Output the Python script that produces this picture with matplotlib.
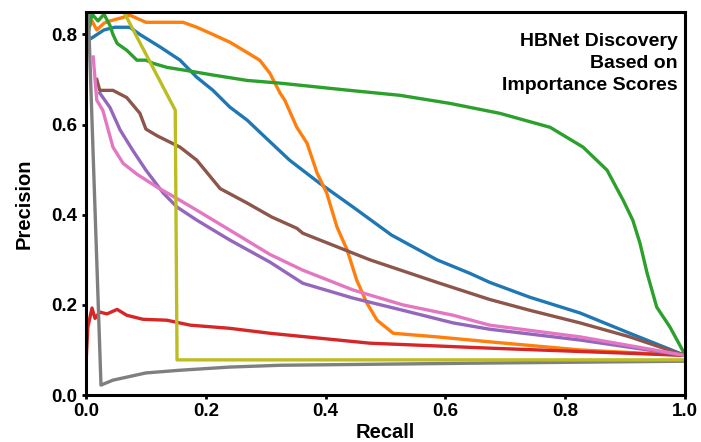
import matplotlib
matplotlib.use("Agg")
import matplotlib.pyplot as plt

plt.rcParams['font.family'] = ['Liberation Sans', 'DejaVu Sans']

# Recall / precision values
blue_r = [0.0, 0.007, 0.03, 0.048, 0.073, 0.09, 0.124, 0.157, 0.185, 0.212, 0.24, 0.269, 0.296,
          0.34, 0.39, 0.446, 0.51, 0.586, 0.641, 0.674, 0.741, 0.825, 0.908, 0.97, 1.0]
blue_p = [0.80, 0.79, 0.81, 0.816, 0.816, 0.80, 0.772, 0.743, 0.705, 0.676, 0.639, 0.61, 0.576,
          0.521, 0.47, 0.417, 0.355, 0.30, 0.27, 0.25, 0.217, 0.182, 0.137, 0.104, 0.088]

orange_r = [0.0, 0.01, 0.018, 0.03, 0.04, 0.062, 0.073, 0.10, 0.129, 0.162, 0.185, 0.212, 0.24,
            0.269, 0.29, 0.307, 0.324, 0.332, 0.352, 0.369, 0.386, 0.402, 0.419, 0.436, 0.452,
            0.469, 0.486, 0.513, 0.586, 0.674, 0.825, 1.0]
orange_p = [0.80, 0.83, 0.81, 0.825, 0.83, 0.838, 0.843, 0.827, 0.827, 0.827, 0.816, 0.80, 0.783,
            0.76, 0.743, 0.714, 0.67, 0.654, 0.594, 0.559, 0.492, 0.448, 0.373, 0.322, 0.255,
            0.204, 0.166, 0.137, 0.129, 0.118, 0.10, 0.088]

green_r = [0.0, 0.003, 0.01, 0.02, 0.03, 0.04, 0.045, 0.052, 0.068, 0.085, 0.10, 0.112, 0.135,
           0.168, 0.212, 0.269, 0.324, 0.44, 0.524, 0.608, 0.691, 0.775, 0.83, 0.87, 0.897,
           0.913, 0.925, 0.937, 0.953, 0.975, 1.0]
green_p = [0.80, 0.80, 0.845, 0.83, 0.845, 0.82, 0.80, 0.78, 0.765, 0.743, 0.743, 0.736, 0.727,
           0.72, 0.71, 0.698, 0.692, 0.676, 0.665, 0.647, 0.625, 0.594, 0.55, 0.499, 0.432,
           0.388, 0.337, 0.27, 0.195, 0.151, 0.09]

red_r = [0.0, 0.0, 0.003, 0.01, 0.015, 0.023, 0.035, 0.052, 0.068, 0.095, 0.135, 0.174, 0.24,
         0.307, 0.474, 0.674, 1.0]
red_p = [0.62, 0.07, 0.15, 0.193, 0.17, 0.184, 0.18, 0.19, 0.177, 0.168, 0.166, 0.155, 0.148,
         0.137, 0.115, 0.104, 0.088]

purple_r = [0.023, 0.04, 0.057, 0.078, 0.10, 0.129, 0.152, 0.185, 0.24, 0.307, 0.362, 0.446,
            0.529, 0.613, 0.674, 0.825, 1.0]
purple_p = [0.67, 0.638, 0.588, 0.543, 0.499, 0.448, 0.417, 0.388, 0.344, 0.295, 0.248, 0.215,
            0.188, 0.16, 0.146, 0.122, 0.088]

brown_r = [0.018, 0.023, 0.045, 0.068, 0.09, 0.10, 0.119, 0.157, 0.185, 0.224, 0.269, 0.31,
           0.352, 0.362, 0.474, 0.586, 0.674, 0.741, 0.825, 0.908, 1.0]
brown_p = [0.70, 0.676, 0.676, 0.66, 0.625, 0.59, 0.575, 0.55, 0.521, 0.458, 0.426, 0.395,
           0.37, 0.359, 0.30, 0.25, 0.212, 0.188, 0.16, 0.129, 0.088]

pink_r = [0.012, 0.018, 0.028, 0.045, 0.062, 0.085, 0.119, 0.157, 0.185, 0.24, 0.307, 0.362,
          0.446, 0.529, 0.613, 0.674, 0.825, 1.0]
pink_p = [0.75, 0.654, 0.632, 0.55, 0.514, 0.49, 0.461, 0.432, 0.41, 0.366, 0.312, 0.277,
          0.233, 0.20, 0.177, 0.155, 0.129, 0.088]

gray_r = [0.0, 0.025, 0.045, 0.10, 0.157, 0.24, 0.324, 0.674, 1.0]
gray_p = [1.0, 0.022, 0.033, 0.049, 0.055, 0.062, 0.066, 0.071, 0.075]

olive_r = [0.004, 0.149, 0.152, 1.0]
olive_p = [1.0, 0.632, 0.078, 0.078]

series = [
    (blue_r, blue_p, '#1f77b4'),
    (orange_r, orange_p, '#ff7f0e'),
    (green_r, green_p, '#2ca02c'),
    (red_r, red_p, '#d62728'),
    (purple_r, purple_p, '#9467bd'),
    (brown_r, brown_p, '#8c564b'),
    (pink_r, pink_p, '#e377c2'),
    (gray_r, gray_p, '#7f7f7f'),
    (olive_r, olive_p, '#bcbd22'),
]

fig = plt.figure(figsize=(7.01, 4.42), dpi=100)
ax = fig.add_axes([0.1227, 0.1063, 0.8543, 0.8667])

for r, p, c in series:
    ax.plot(r, p, color=c, lw=2.4, solid_joinstyle='round')

ax.set_xlim(0.0, 1.0)
ax.set_ylim(0.0, 0.85)
ax.set_xticks([0.0, 0.2, 0.4, 0.6, 0.8, 1.0])
ax.set_yticks([0.0, 0.2, 0.4, 0.6, 0.8])
ax.set_xticklabels(['0.0', '0.2', '0.4', '0.6', '0.8', '1.0'])
ax.set_yticklabels(['0.0', '0.2', '0.4', '0.6', '0.8'])
for lab in ax.get_xticklabels() + ax.get_yticklabels():
    lab.set_fontweight('bold')
    lab.set_fontsize(13.5)
ax.tick_params(axis='both', direction='out', length=3, width=2, pad=3)

for s in ax.spines.values():
    s.set_linewidth(2.2)
    s.set_color('black')

ax.set_xlabel('Recall', fontsize=14.5, fontweight='bold', labelpad=2)
ax.set_ylabel('Precision', fontsize=14.5, fontweight='bold', labelpad=13)

ax.text(0.988, 0.944, 'HBNet Discovery\nBased on\nImportance Scores', transform=ax.transAxes,
        ha='right', va='top', fontsize=14, fontweight='bold', linespacing=1.38, multialignment='right')

fig.savefig('out.png', dpi=100)
